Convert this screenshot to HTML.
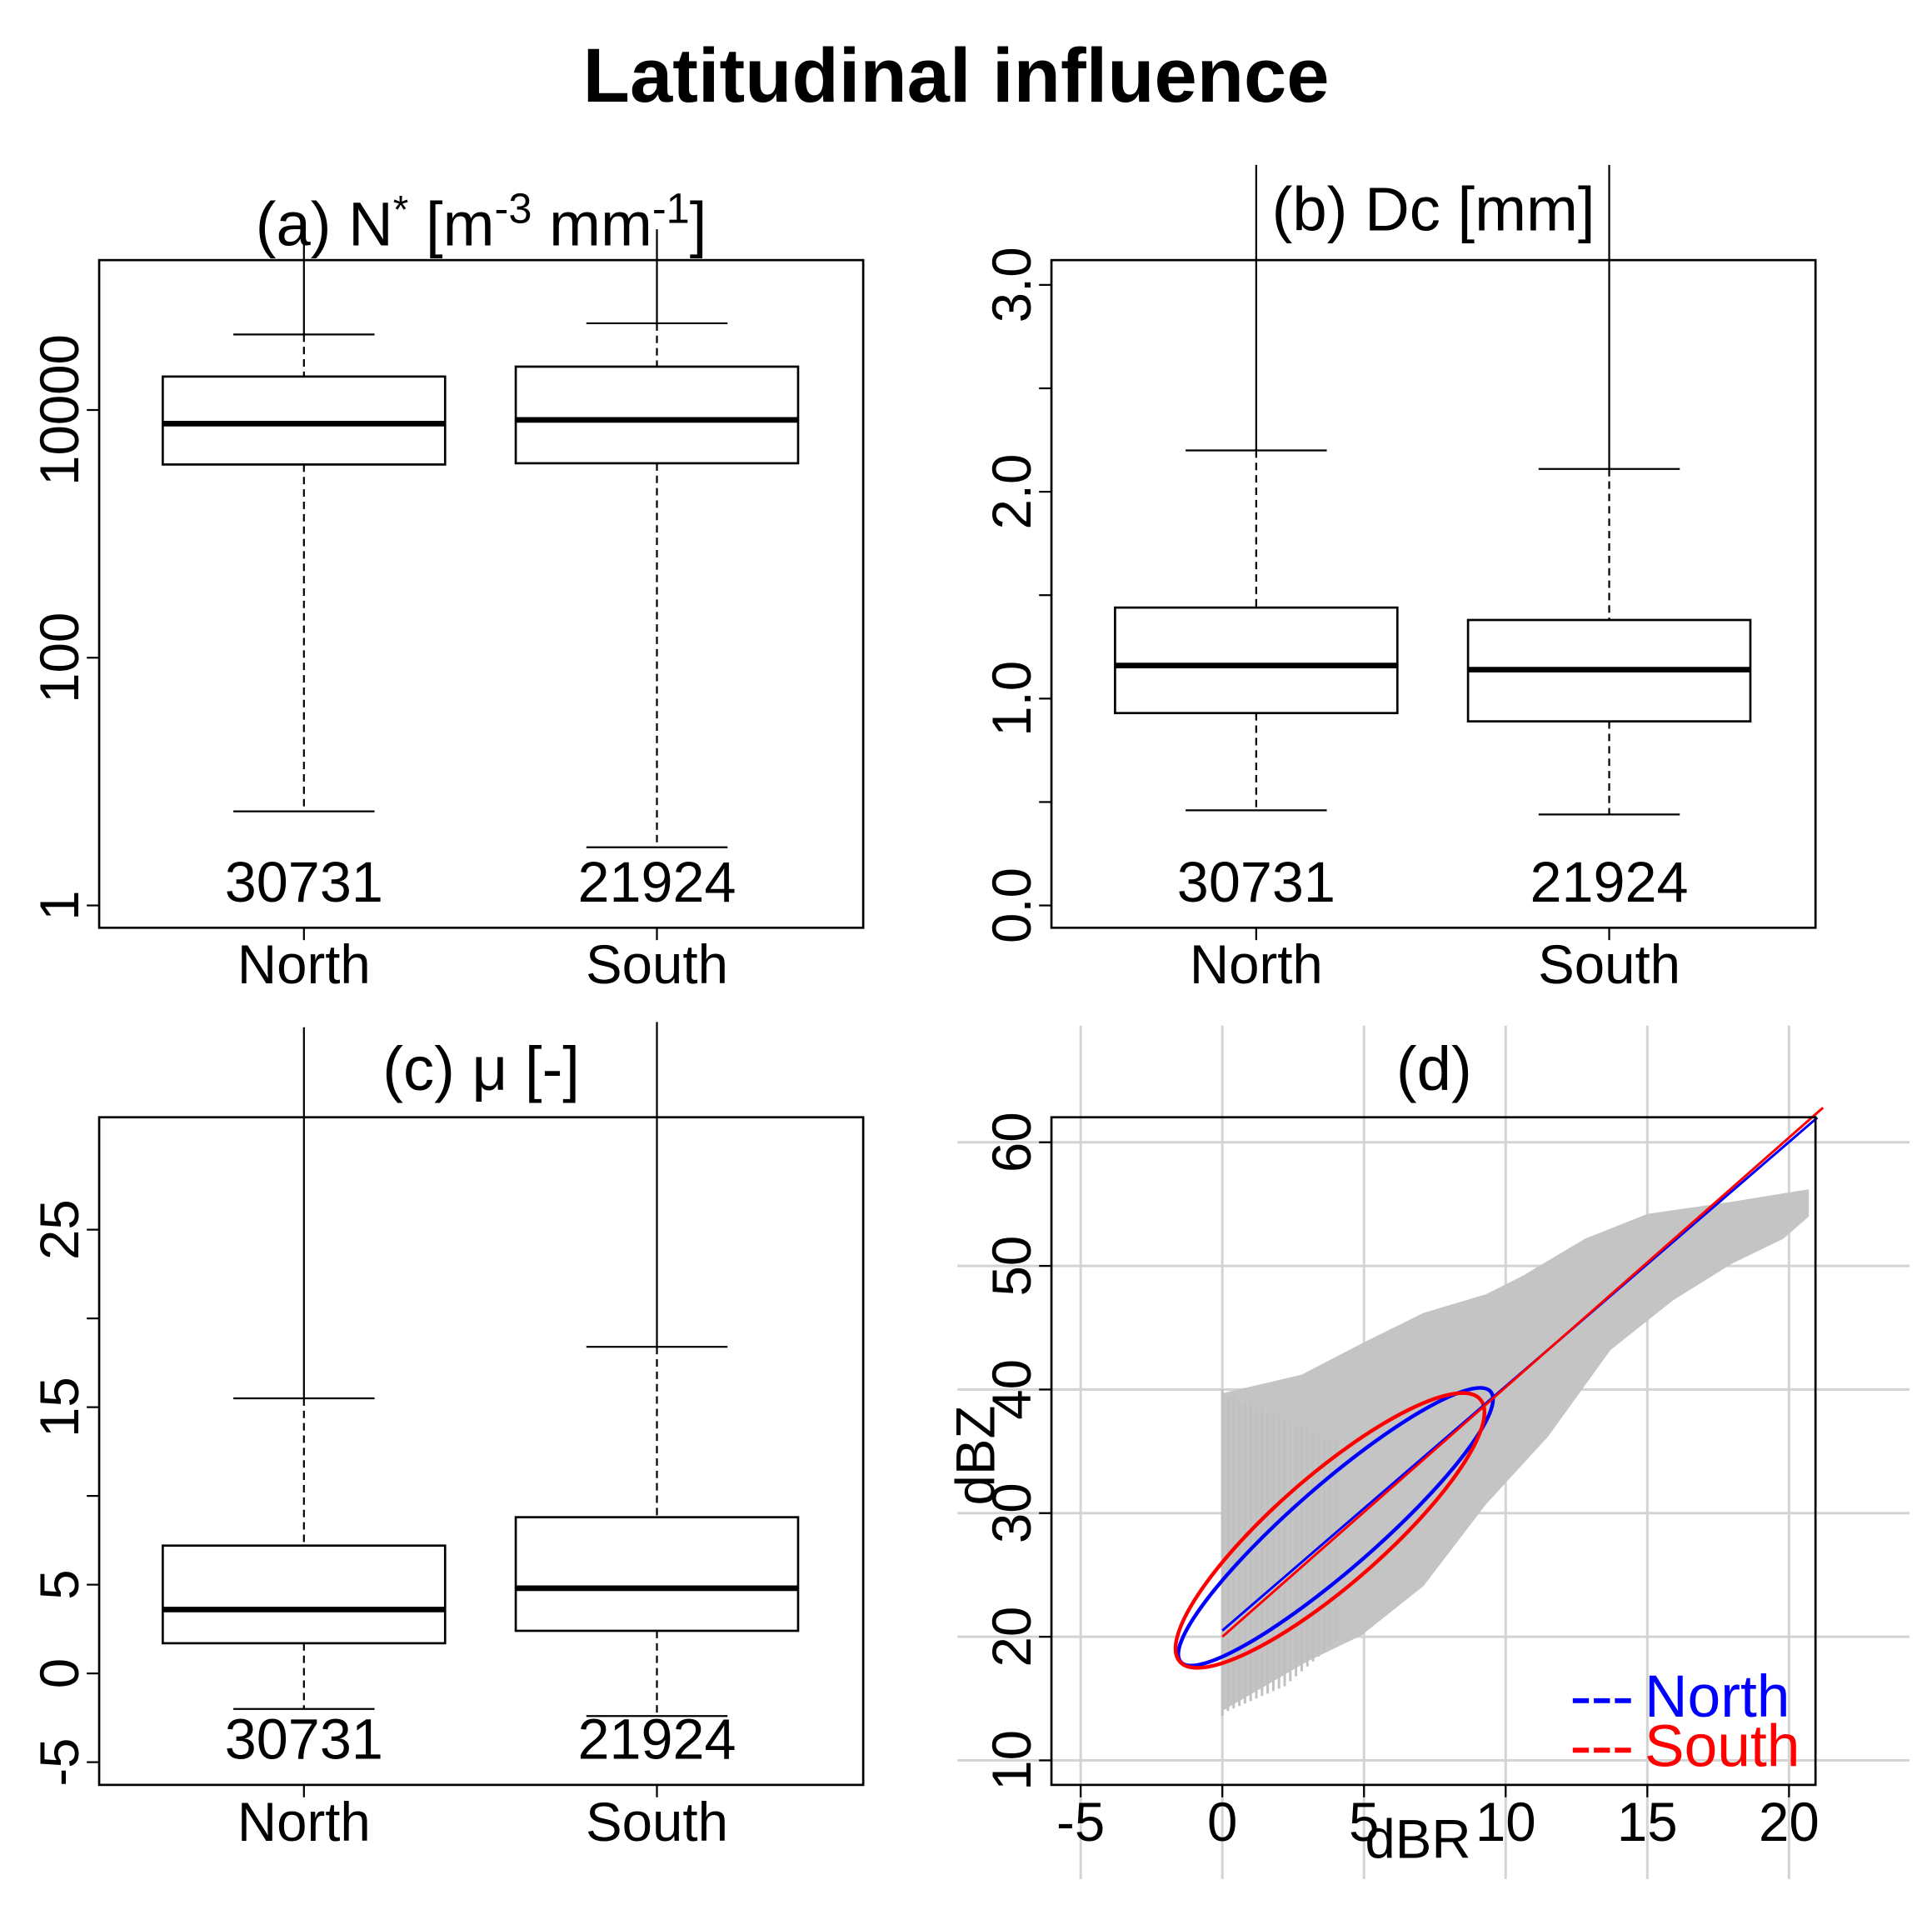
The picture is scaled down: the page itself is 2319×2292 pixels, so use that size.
<!DOCTYPE html>
<html><head><meta charset="utf-8"><style>
html,body{margin:0;padding:0;background:#fff}
svg{display:block;font-family:"Liberation Sans",Arial,sans-serif}
</style></head><body>
<svg id="fig" width="2319" height="2292" viewBox="0 0 1560 1542" xmlns="http://www.w3.org/2000/svg">
<rect width="1560" height="1542" fill="#fff"/>
<text x="772" y="82" text-anchor="middle" font-size="62" font-weight="bold">Latitudinal influence</text>
<g id="pa"></g>
<g id="pb"></g>
<g id="pc"></g>
<g id="pd"></g>
</svg>
<script>
// ---- data ----
const groups = ["North","South"];
const counts = ["30731","21924"];
// [max outlier, upper whisker, q3, median, q1, lower whisker]
const nStarNorth = [288000, 40738, 18620, 7762, 3631, 5.75];
const nStarSouth = [288000, 50119, 22387, 8318, 3715, 2.95];
const dcNorth = [3.58, 2.20, 1.44, 1.16, 0.93, 0.46];
const dcSouth = [3.58, 2.11, 1.38, 1.14, 0.89, 0.44];
const muNorth = [36.4, 15.5, 7.2, 3.6, 1.7, -2.0];
const muSouth = [36.7, 18.4, 8.8, 4.8, 2.4, -2.4];
const aTicks = [1, 100, 10000];
const bTicks = [0, 0.5, 1, 1.5, 2, 2.5, 3];
const bTickLabels = ["0.0","","1.0","","2.0","","3.0"];
const cTicks = [-5, 0, 5, 10, 15, 20, 25];
const cTickLabels = ["-5","0","5","","15","","25"];
const dXTicks = [-5, 0, 5, 10, 15, 20];
const dYTicks = [10, 20, 30, 40, 50, 60];
// fitted lines [x0,y0,x1,y1] in dBR/dBZ
const lineNorth = [0, 20.5, 21, 62];
const lineSouth = [0, 20.0, 21.2, 62.8];
// ellipse [centre dBR, centre dBZ, semi-major, semi-minor]
const ellNorth = [4.0, 28.9, 166, 34];
const ellSouth = [3.8, 28.6, 161, 44];
// gray cloud outline (dBR, dBZ)
const cloudX = [0, 2.8, 4.9, 7.1, 9.3, 10.6, 12.8, 15, 18, 20.7, 20.7, 19.8, 18, 15.9, 13.7, 11.5, 9.3, 7.1, 4.9, 3, 1.5, 0];
const cloudY = [39.7, 41.2, 43.7, 46.2, 47.7, 49.2, 52.2, 54.2, 55.2, 56.2, 54, 52.2, 50.2, 47.2, 43.2, 36.2, 30.7, 24.1, 20.1, 18, 16, 14];
const streakX = [0,0.2,0.4,0.6,0.8,1,1.2,1.4,1.6,1.8,2,2.2,2.4,2.6,2.8,3,3.2,3.4,3.6,3.8,4];
const streakTop = [40,39.5,39.5,39,39,39,38.5,38.5,38,38,38,37.5,37.5,37,37,37,36.5,36.5,36,36,36];
const streakBot = [13.6,14,14.2,14.4,14.6,14.8,15,15.2,15.4,15.6,15.8,16,16.4,16.8,17.2,17.6,18,18.4,18.8,19.2,19.6];

const NS = "http://www.w3.org/2000/svg";
function el(parent, tag, attrs, text){
  const e = document.createElementNS(NS, tag);
  for (const k in attrs) e.setAttribute(k, attrs[k]);
  if (text !== undefined) e.textContent = text;
  parent.appendChild(e);
  return e;
}

function boxPanel(g, box, yMap, ticks, tickLabels, title, dataSets, titleY, titleSize){
  const [x0,y0,x1,y1] = box;
  const centers = [x0 + (x1-x0)*0.268, x0 + (x1-x0)*0.73];
  const hw = 114;
  dataSets.forEach((d, i) => {
    const cx = centers[i];
    const grp = el(g, "g", {});
    
    
    const ymax=yMap(d[0]), yuw=yMap(d[1]), yq3=yMap(d[2]), ymed=yMap(d[3]), yq1=yMap(d[4]), ylw=yMap(d[5]);
    const ol = el(grp, "line", {x1:cx,x2:cx,y1:ymax,y2:yuw,stroke:"#000","stroke-width":1.5});
    
    
    el(grp, "line", {x1:cx,x2:cx,y1:yuw,y2:yq3,stroke:"#000","stroke-width":1.5,"stroke-dasharray":"6,4"});
    el(grp, "line", {x1:cx,x2:cx,y1:yq1,y2:ylw,stroke:"#000","stroke-width":1.5,"stroke-dasharray":"6,4"});
    el(grp, "line", {x1:cx-hw/2,x2:cx+hw/2,y1:yuw,y2:yuw,stroke:"#000","stroke-width":1.5});
    el(grp, "line", {x1:cx-hw/2,x2:cx+hw/2,y1:ylw,y2:ylw,stroke:"#000","stroke-width":1.5});
    el(grp, "rect", {x:cx-hw,y:yq3,width:2*hw,height:yq1-yq3,fill:"#fff",stroke:"#000","stroke-width":1.8});
    el(grp, "line", {x1:cx-hw,x2:cx+hw,y1:ymed,y2:ymed,stroke:"#000","stroke-width":4.5});
    const ct = el(g, "text", {x:cx,y:y1-21,"text-anchor":"middle","font-size":46}, counts[i]);
    
    
    el(g, "line", {x1:cx,x2:cx,y1:y1,y2:y1+10,stroke:"#000","stroke-width":1.5});
    const cl = el(g, "text", {x:cx,y:y1+45,"text-anchor":"middle","font-size":44}, groups[i]);
    
    
  });
  const fr = el(g, "rect", {x:x0,y:y0,width:x1-x0,height:y1-y0,fill:"none",stroke:"#000","stroke-width":1.8});
  
  
  ticks.forEach((t, i) => {
    const y = yMap(t);
    el(g, "line", {x1:x0-10,x2:x0,y1:y,y2:y,stroke:"#000","stroke-width":1.5});
    if (tickLabels[i] !== "") {
      const tl = el(g, "text", {x:0,y:0,"text-anchor":"middle","font-size":44,transform:`translate(${x0-17},${y}) rotate(-90)`}, tickLabels[i]);
      
      
    }
  });
  const tt = el(g, "text", {x:(x0+x1)/2,y:titleY,"text-anchor":"middle","font-size":titleSize});
  tt.innerHTML = title;
  
  
}

boxPanel(document.getElementById("pa"), [80,210,697,749], v => 731 - 100*Math.log10(v), aTicks, aTicks.map(String),
  '(a) N<tspan dy="-18" font-size="32">*</tspan><tspan dy="18"> [m</tspan><tspan dy="-18" font-size="34">-3</tspan><tspan dy="18"> mm</tspan><tspan dy="-18" font-size="34">-1</tspan><tspan dy="18">]</tspan>',
  [nStarNorth, nStarSouth], 198, 50);
boxPanel(document.getElementById("pb"), [849,210,1466,749], v => 731 - 167*v, bTicks, bTickLabels, '(b) Dc [mm]', [dcNorth, dcSouth], 186, 50);
boxPanel(document.getElementById("pc"), [80,902,697,1441], v => 1351 - 14.33*v, cTicks, cTickLabels, '(c) μ [-]', [muNorth, muSouth], 880, 50);

(function(){
  const g = document.getElementById("pd");
  const X = v => 987 + 22.88*v, Y = v => 1521 - 9.98*v;
  const x0=849,y0=902,x1=1466,y1=1441;
  dXTicks.forEach(t => el(g,"line",{x1:X(t),x2:X(t),y1:828,y2:1517,stroke:"#d3d3d3","stroke-width":2}));
  dYTicks.forEach(t => el(g,"line",{x1:773,x2:1542,y1:Y(t),y2:Y(t),stroke:"#d3d3d3","stroke-width":2}));
  const cloud = el(g,"polygon",{points:cloudX.map((x,i)=>X(x)+","+Y(cloudY[i])).join(" "),fill:"#c4c4c4"});
  
  
  streakX.forEach((x,i) => {
    const s = el(g,"line",{x1:X(x),x2:X(x),y1:Y(streakTop[i]),y2:Y(streakBot[i]),stroke:"#c0c0c0","stroke-width":2});
    
    
  });
  const ang = Math.atan2(-9.98*2, 22.88) * 180/Math.PI;
  [[ellNorth,"#0000ff","north"],[ellSouth,"#ff0000","south"]].forEach(([e,c,n]) => {
    const ee = el(g,"ellipse",{cx:0,cy:0,rx:e[2],ry:e[3],fill:"none",stroke:c,"stroke-width":3,transform:`translate(${X(e[0])},${Y(e[1])}) rotate(${ang})`});
    
    
  });
  [[lineNorth,"#0000ff","north"],[lineSouth,"#ff0000","south"]].forEach(([l,c,n]) => {
    const ln = el(g,"line",{x1:X(l[0]),y1:Y(l[1]),x2:X(l[2]),y2:Y(l[3]),stroke:c,"stroke-width":2});
    
    
  });
  const fr = el(g,"rect",{x:x0,y:y0,width:x1-x0,height:y1-y0,fill:"none",stroke:"#000","stroke-width":1.8});
  
  
  dXTicks.forEach(t => {
    el(g,"line",{x1:X(t),x2:X(t),y1:y1,y2:y1+10,stroke:"#000","stroke-width":1.5});
    const tl = el(g,"text",{x:X(t),y:1486,"text-anchor":"middle","font-size":44}, String(t));
    
    
  });
  dYTicks.forEach(t => {
    el(g,"line",{x1:x0-10,x2:x0,y1:Y(t),y2:Y(t),stroke:"#000","stroke-width":1.5});
    const tl = el(g,"text",{x:0,y:0,"text-anchor":"middle","font-size":44,transform:`translate(${x0-17},${Y(t)}) rotate(-90)`}, String(t));
    
    
  });
  const xt = el(g,"text",{x:1145,y:1500,"text-anchor":"middle","font-size":44},"dBR");
  
  
  const yt = el(g,"text",{x:0,y:0,"text-anchor":"middle","font-size":44,transform:"translate(803,1175) rotate(-90)"},"dBZ");
  
  
  const tt = el(g,"text",{x:1158,y:880,"text-anchor":"middle","font-size":50},"(d)");
  
  
  [["North","#0000ff",1386],["South","#ff0000",1426]].forEach(([n,c,y]) => {
    const lg = el(g,"g",{});
    
    
    el(lg,"line",{x1:1270,x2:1320,y1:y-13,y2:y-13,stroke:c,"stroke-width":4,"stroke-dasharray":"13,4"});
    el(lg,"text",{x:1328,y:y,"font-size":48,fill:c},n);
  });
})();
</script>
</body></html>
